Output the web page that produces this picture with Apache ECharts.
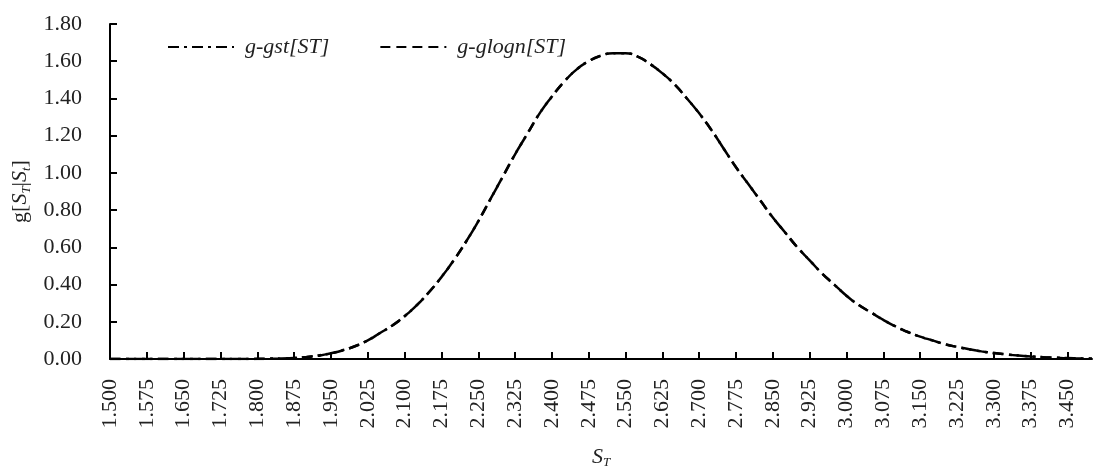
<!DOCTYPE html>
<html>
<head>
<meta charset="utf-8">
<script src="https://cdn.jsdelivr.net/npm/echarts@6/dist/echarts.min.js"></script>
<style>
  html, body { margin: 0; padding: 0; background: #fff; }
  #chart { width: 1094px; height: 468px; }
</style>
</head>
<body>
<div id="chart"></div>
<script>
var categories = [
    '1.500', '1.525', '1.550', '1.575', '1.600', '1.625', '1.650', '1.675', '1.700', '1.725',
    '1.750', '1.775', '1.800', '1.825', '1.850', '1.875', '1.900', '1.925', '1.950', '1.975',
    '2.000', '2.025', '2.050', '2.075', '2.100', '2.125', '2.150', '2.175', '2.200', '2.225',
    '2.250', '2.275', '2.300', '2.325', '2.350', '2.375', '2.400', '2.425', '2.450', '2.475',
    '2.500', '2.525', '2.550', '2.575', '2.600', '2.625', '2.650', '2.675', '2.700', '2.725',
    '2.750', '2.775', '2.800', '2.825', '2.850', '2.875', '2.900', '2.925', '2.950', '2.975',
    '3.000', '3.025', '3.050', '3.075', '3.100', '3.125', '3.150', '3.175', '3.200', '3.225',
    '3.250', '3.275', '3.300', '3.325', '3.350', '3.375', '3.400', '3.425', '3.450', '3.475',
    '3.500'
];

// g-gst[ST]
var gstValues = [
    0, 0, 0, 0, 0, 0, 0, 0, 0, 0,
    0, 0, 0.001, 0.002, 0.003, 0.006, 0.011, 0.019, 0.031, 0.048,
    0.07, 0.10, 0.14, 0.18, 0.23, 0.29, 0.36, 0.44, 0.53, 0.63,
    0.74, 0.86, 0.98, 1.10, 1.21, 1.32, 1.41, 1.49, 1.555, 1.60,
    1.63, 1.643, 1.643, 1.625, 1.585, 1.535, 1.475, 1.40, 1.32, 1.23,
    1.13, 1.03, 0.94, 0.85, 0.76, 0.68, 0.60, 0.53, 0.46, 0.40,
    0.34, 0.29, 0.25, 0.21, 0.175, 0.145, 0.12, 0.10, 0.08, 0.065,
    0.052, 0.041, 0.032, 0.025, 0.019, 0.014, 0.010, 0.007, 0.005, 0.003,
    0.002
];

// g-glogn[ST]
var glognValues = [
    0, 0, 0, 0, 0, 0, 0, 0, 0, 0,
    0, 0, 0, 0.001, 0.002, 0.005, 0.010, 0.018, 0.030, 0.047,
    0.07, 0.10, 0.14, 0.18, 0.23, 0.29, 0.36, 0.44, 0.53, 0.63,
    0.74, 0.86, 0.98, 1.10, 1.21, 1.32, 1.41, 1.49, 1.555, 1.60,
    1.63, 1.643, 1.643, 1.625, 1.585, 1.535, 1.475, 1.40, 1.32, 1.23,
    1.13, 1.03, 0.94, 0.85, 0.76, 0.68, 0.60, 0.53, 0.46, 0.40,
    0.34, 0.29, 0.25, 0.21, 0.175, 0.145, 0.12, 0.10, 0.08, 0.065,
    0.052, 0.041, 0.032, 0.025, 0.019, 0.014, 0.010, 0.007, 0.004, 0.003,
    0.002
];

var font = 'Liberation Serif';

var dom = document.getElementById('chart');
var myChart = echarts.init(dom);
var option = {
    animation: false,
    backgroundColor: '#fff',
    textStyle: { fontFamily: font, color: '#222' },
    legend: {
        top: 31,
        left: 162,
        itemWidth: 66,
        itemHeight: 10,
        itemGap: 50,
        itemStyle: { opacity: 0 },
        textStyle: { fontFamily: font, fontSize: 22, fontStyle: 'italic', color: '#222', padding: [0, 0, 0, 6] },
        data: ['g-gst[ST]', 'g-glogn[ST]']
    },
    grid: {
        left: 110,
        right: 2,
        top: 24,
        bottom: 109,
        containLabel: false,
        outerBoundsMode: 'none'
    },
    xAxis: {
        type: 'category',
        data: categories,
        boundaryGap: false,
        name: '{i|S}{sub|T}',
        nameLocation: 'middle',
        nameGap: 86,
        nameTextStyle: {
            rich: {
                i: { fontFamily: font, fontStyle: 'italic', fontSize: 22, color: '#222' },
                sub: { fontFamily: font, fontStyle: 'italic', fontSize: 13, color: '#222', verticalAlign: 'bottom', padding: [11, 0, 0, 0] }
            }
        },
        axisLine: { lineStyle: { color: '#000', width: 2 } },
        axisTick: { show: true, inside: true, length: 7, interval: 2, lineStyle: { color: '#000', width: 2 } },
        axisLabel: {
            interval: 2,
            rotate: 90,
            margin: 20,
            fontFamily: font,
            fontSize: 22,
            color: '#222'
        },
        splitLine: { show: false }
    },
    yAxis: {
        type: 'value',
        min: 0,
        max: 1.8,
        interval: 0.2,
        name: 'g[{i|S}{sub|T}|{i|S}{sub|t}]',
        nameLocation: 'middle',
        nameRotate: 90,
        nameGap: 74,
        nameTextStyle: {
            fontFamily: font,
            fontSize: 22,
            color: '#222',
            rich: {
                i: { fontFamily: font, fontStyle: 'italic', fontSize: 22, color: '#222' },
                sub: { fontFamily: font, fontStyle: 'italic', fontSize: 13, color: '#222', verticalAlign: 'bottom', padding: [11, 0, 0, 0] }
            }
        },
        axisLine: { show: true, lineStyle: { color: '#000', width: 2 } },
        axisTick: { show: true, inside: true, length: 7, lineStyle: { color: '#000', width: 2 } },
        axisLabel: {
            margin: 28,
            fontFamily: font,
            fontSize: 22,
            color: '#222',
            formatter: function (v) { return v.toFixed(2); }
        },
        splitLine: { show: false }
    },
    series: [
        {
            name: 'g-gst[ST]',
            type: 'line',
            data: gstValues,
            symbol: 'none',
            smooth: true,
            lineStyle: { color: '#000', width: 2.5, type: [11, 5, 3, 5] },
            itemStyle: { color: '#000' }
        },
        {
            name: 'g-glogn[ST]',
            type: 'line',
            data: glognValues,
            symbol: 'none',
            smooth: true,
            lineStyle: { color: '#000', width: 2.5, type: [10, 6] },
            itemStyle: { color: '#000' }
        }
    ]
};
myChart.setOption(option, true);
</script>
</body>
</html>
